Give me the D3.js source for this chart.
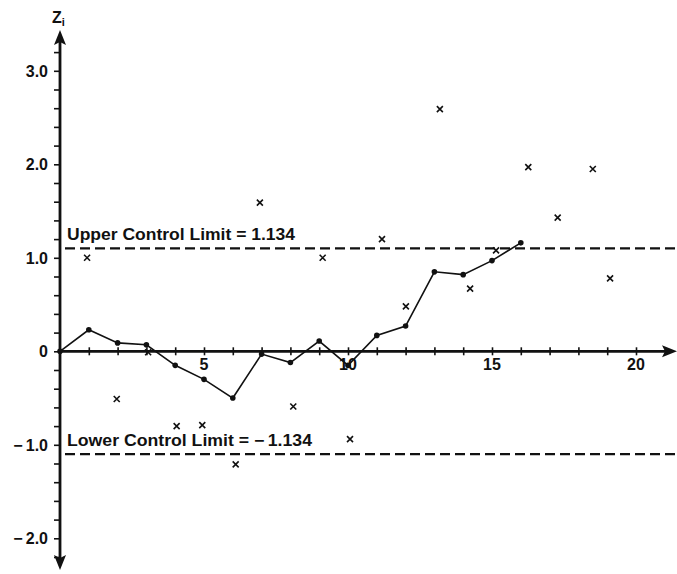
<!DOCTYPE html>
<html><head><meta charset="utf-8">
<script src="https://cdn.jsdelivr.net/npm/d3@7"></script>
<style>
html,body{margin:0;padding:0;background:#fff;}
text{font-family:"Liberation Sans",Arial,Helvetica,sans-serif;font-weight:bold;fill:#111;}
</style></head>
<body>
<svg id="c" width="677" height="574"></svg>
<script>
// EWMA statistic z_i (connected line with dots)
const ewmaPeriods = [0,1,2,3,4,5,6,7,8,9,10,11,12,13,14,15,16];
const ewmaValues  = [0,0.23,0.09,0.07,-0.15,-0.30,-0.50,-0.03,-0.12,0.11,-0.15,0.17,0.27,0.85,0.82,0.97,1.16];
const obsPeriods = [0.94,1.97,3.06,4.05,4.94,6.1,6.94,8.1,9.12,10.07,11.18,12.01,13.19,14.24,15.14,16.26,17.28,18.5,19.1];
const obsValues  = [1.00,-0.51,-0.01,-0.80,-0.79,-1.21,1.59,-0.59,1.00,-0.94,1.20,0.48,2.59,0.67,1.08,1.97,1.43,1.95,0.78];
// control limits
const limitLabelValue = 1.134;
const limitDrawn = 1.1;
const xTickLabels = [5,10,15,20];
const yTickLabels = [3,2,1,0,-1,-2];

const svg = d3.select("#c");
const x = d3.scaleLinear().domain([0,20]).range([60,636]);
const y = d3.scaleLinear().domain([-2,3]).range([538.3,70.8]);
const x0 = x(0), y0 = y(0);

// axes lines
svg.append("line").attr("x1",x0).attr("x2",666).attr("y1",y0).attr("y2",y0)
  .attr("stroke","#111").attr("stroke-width",2.8);
svg.append("line").attr("x1",x0).attr("x2",x0).attr("y1",40).attr("y2",560)
  .attr("stroke","#111").attr("stroke-width",2.8);
// arrowheads
svg.append("path").attr("d",`M677,${y0} L662,${y0-6} L665,${y0} L662,${y0+6} Z`).attr("fill","#111");
svg.append("path").attr("d",`M${x0},30 L${x0-6},45 L${x0},42 L${x0+6},45 Z`).attr("fill","#111");
svg.append("path").attr("d",`M${x0},570 L${x0-6},555 L${x0},558 L${x0+6},555 Z`).attr("fill","#111");

// x ticks via axis
const xAxis = d3.axisBottom(x).tickValues(d3.range(1,21)).tickSize(0).tickFormat("");
const gx = svg.append("g").attr("transform",`translate(0,${y0})`).call(xAxis);
gx.select(".domain").remove();
gx.selectAll(".tick").append("line").attr("y1",-4).attr("y2",4).attr("stroke","#111").attr("stroke-width",1.6);
svg.selectAll("text.xl").data(xTickLabels).join("text").attr("class","xl")
  .attr("x",d=>x(d)).attr("y",y0+18.5).attr("text-anchor","middle").attr("font-size",16).text(d=>d);

// y ticks
const yMinor = d3.range(-11,17).map(k=>k*0.2);
const yAxis = d3.axisLeft(y).tickValues(yMinor).tickSize(6).tickFormat("");
const gy = svg.append("g").attr("transform",`translate(${x0},0)`).call(yAxis);
gy.select(".domain").remove();
gy.selectAll(".tick line").attr("stroke","#111").attr("stroke-width",1.6);
const fmtY = d => d===0 ? "0" : (d<0 ? "\u2212\u2009"+Math.abs(d).toFixed(1) : d.toFixed(1));
svg.selectAll("text.yl").data(yTickLabels).join("text").attr("class","yl")
  .attr("x",48).attr("y",d=>y(d)+6).attr("text-anchor","end").attr("font-size",16).text(fmtY);

// axis title Z_i
const tt = svg.append("text").attr("x",52).attr("y",23).attr("font-size",16);
tt.append("tspan").text("Z");
tt.append("tspan").attr("font-size",11).attr("dy",3).text("i");

// control limits
[limitDrawn,-limitDrawn].forEach(v=>{
  svg.append("line").attr("x1",65).attr("x2",677).attr("y1",y(v)).attr("y2",y(v))
    .attr("stroke","#111").attr("stroke-width",2.3).attr("stroke-dasharray","10,5");
});
svg.append("text").attr("x",67).attr("y",y(limitDrawn)-8).attr("font-size",16)
  .attr("textLength",228).attr("lengthAdjust","spacingAndGlyphs")
  .text(`Upper Control Limit = ${limitLabelValue.toFixed(3)}`);
svg.append("text").attr("x",67).attr("y",y(-limitDrawn)-8).attr("font-size",16)
  .attr("textLength",245).attr("lengthAdjust","spacingAndGlyphs")
  .text(`Lower Control Limit = \u2212\u2009${limitLabelValue.toFixed(3)}`);

// EWMA line
const pts = ewmaPeriods.map((p,i)=>[p,ewmaValues[i]]);
svg.append("path").datum(pts)
  .attr("d",d3.line().x(d=>x(d[0])).y(d=>y(d[1])))
  .attr("fill","none").attr("stroke","#111").attr("stroke-width",1.6);
svg.selectAll("circle.pt").data(pts).join("circle").attr("class","pt")
  .attr("cx",d=>x(d[0])).attr("cy",d=>y(d[1])).attr("r",2.8).attr("fill","#111");

// observation x marks
const obs = obsPeriods.map((p,i)=>[p,obsValues[i]]);
svg.selectAll("path.xm").data(obs).join("path").attr("class","xm")
  .attr("d",d=>{const cx=x(d[0]),cy=y(d[1]),s=3;return `M${cx-s},${cy-s}L${cx+s},${cy+s}M${cx-s},${cy+s}L${cx+s},${cy-s}`;})
  .attr("stroke","#111").attr("stroke-width",1.6).attr("fill","none");
</script>
</body></html>
